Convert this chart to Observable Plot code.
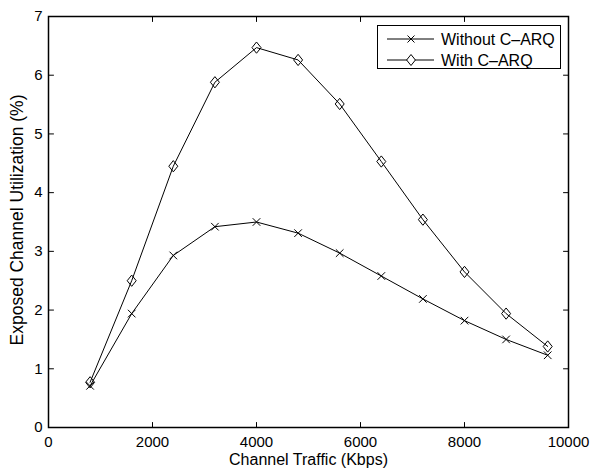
<!DOCTYPE html>
<html>
<head>
<meta charset="utf-8">
<script src="https://cdn.jsdelivr.net/npm/d3@7"></script>
<script src="https://cdn.jsdelivr.net/npm/@observablehq/plot@0.6"></script>
<style>
  html, body { margin: 0; padding: 0; background: #fff; }
  #wrap { position: relative; width: 592px; height: 470px; font-family: "Liberation Sans", Arial, sans-serif; }
  #legend { position: absolute; left: 377px; top: 25px; width: 182px; height: 42px; border: 1px solid #000; background: #fff; }
  #legend svg { position: absolute; left: 0; top: 0; }
</style>
</head>
<body>
<div id="wrap"><div id="legend"></div></div>
<script>
// ---- data ----
const traffic = [800, 1600, 2400, 3200, 4000, 4800, 5600, 6400, 7200, 8000, 8800, 9600];
const withoutCARQ = [0.71, 1.94, 2.93, 3.42, 3.50, 3.31, 2.97, 2.58, 2.19, 1.82, 1.50, 1.23];
const withCARQ = [0.77, 2.50, 4.45, 5.88, 6.47, 6.26, 5.51, 4.53, 3.54, 2.65, 1.94, 1.38];
const seriesNames = ["Without C\u2013ARQ", "With C\u2013ARQ"];
const xTicks = [0, 2000, 4000, 6000, 8000, 10000];
const yTicks = [0, 1, 2, 3, 4, 5, 6, 7];
const xLabel = "Channel Traffic (Kbps)";
const yLabel = "Exposed Channel Utilization (%)";

const rows = [];
traffic.forEach((t, i) => {
  rows.push({x: t, y: withoutCARQ[i], s: seriesNames[0]});
  rows.push({x: t, y: withCARQ[i], s: seriesNames[1]});
});
const rowsA = rows.filter(d => d.s === seriesNames[0]);
const rowsB = rows.filter(d => d.s === seriesNames[1]);

// custom symbols
const diamond = {draw(ctx, size) { const r = Math.sqrt(size / Math.PI); const h = r * 1.25;
  ctx.moveTo(0, -h); ctx.lineTo(r, 0); ctx.lineTo(0, h); ctx.lineTo(-r, 0); ctx.closePath(); }};
const times = {draw(ctx, size) { const r = Math.sqrt(size / Math.PI);
  ctx.moveTo(-r, -r); ctx.lineTo(r, r); ctx.moveTo(-r, r); ctx.lineTo(r, -r); }};
const tickShape = {draw(ctx, l) { ctx.moveTo(0, 0); ctx.lineTo(0, -l); }};

const innerX = xTicks.filter(d => d > 0 && d < 10000);
const innerY = yTicks.filter(d => d > 0 && d < 7);

const chart = Plot.plot({
  width: 592, height: 470,
  marginLeft: 48, marginRight: 24, marginTop: 16, marginBottom: 43,
  style: {fontFamily: "'Liberation Sans', Arial, sans-serif", fontSize: "15px", color: "#000", background: "#fff"},
  x: {domain: [0, 10000]},
  y: {domain: [0, 7]},
  marks: [
    Plot.axisX({ticks: xTicks, tickSize: 0, tickPadding: 9, tickFormat: d => String(d), label: null}),
    Plot.axisY({ticks: yTicks, tickSize: 0, tickPadding: 6, tickFormat: d => String(d), label: null}),
    // inward ticks on all four sides
    Plot.vector(innerX, {x: d => d, y: 0, length: 5, anchor: "start", rotate: 0, shape: tickShape, stroke: "#000", strokeWidth: 1}),
    Plot.vector(innerX, {x: d => d, y: 7, length: 5, anchor: "start", rotate: 180, shape: tickShape, stroke: "#000", strokeWidth: 1}),
    Plot.vector(innerY, {x: 0, y: d => d, length: 5, anchor: "start", rotate: 90, shape: tickShape, stroke: "#000", strokeWidth: 1}),
    Plot.vector(innerY, {x: 10000, y: d => d, length: 5, anchor: "start", rotate: -90, shape: tickShape, stroke: "#000", strokeWidth: 1}),
    Plot.frame({stroke: "#000", strokeWidth: 1.5}),
    Plot.line(rowsA, {x: "x", y: "y", stroke: "#000", strokeWidth: 1}),
    Plot.line(rowsB, {x: "x", y: "y", stroke: "#000", strokeWidth: 1}),
    Plot.dot(rowsA, {x: "x", y: "y", symbol: times, r: 3.8, stroke: "#000", fill: "none", strokeWidth: 1}),
    Plot.dot(rowsB, {x: "x", y: "y", symbol: diamond, r: 4.5, stroke: "#000", fill: "none", strokeWidth: 1}),
    Plot.text([xLabel], {text: d => d, frameAnchor: "bottom", dy: 32, textAnchor: "middle", lineAnchor: "middle", fontSize: 16, fill: "#000"}),
    Plot.text([yLabel], {text: d => d, frameAnchor: "left", dx: -31, dy: -2, rotate: -90, textAnchor: "middle", lineAnchor: "middle", fontSize: 17.5, fill: "#000"})
  ]
});
document.getElementById("wrap").prepend(chart);

// legend
const lg = d3.select("#legend").append("svg").attr("width", 182).attr("height", 42);
const rowsY = [13, 34];
seriesNames.forEach((name, i) => {
  const g = lg.append("g").attr("transform", `translate(0,${rowsY[i]})`);
  g.append("line").attr("x1", 9).attr("x2", 56).attr("y1", 0).attr("y2", 0).attr("stroke", "#000");
  if (i === 0) {
    g.append("path").attr("d", "M29.5,-3.5L36.5,3.5M29.5,3.5L36.5,-3.5").attr("stroke", "#000").attr("fill", "none");
  } else {
    g.append("path").attr("d", "M33,-5.5L37.4,0L33,5.5L28.6,0Z").attr("stroke", "#000").attr("fill", "#fff");
  }
  g.append("text").attr("x", 63).attr("y", 0).attr("dy", "0.35em").attr("font-size", 16)
    .attr("font-family", "'Liberation Sans', Arial, sans-serif").text(name);
});
</script>
</body>
</html>
